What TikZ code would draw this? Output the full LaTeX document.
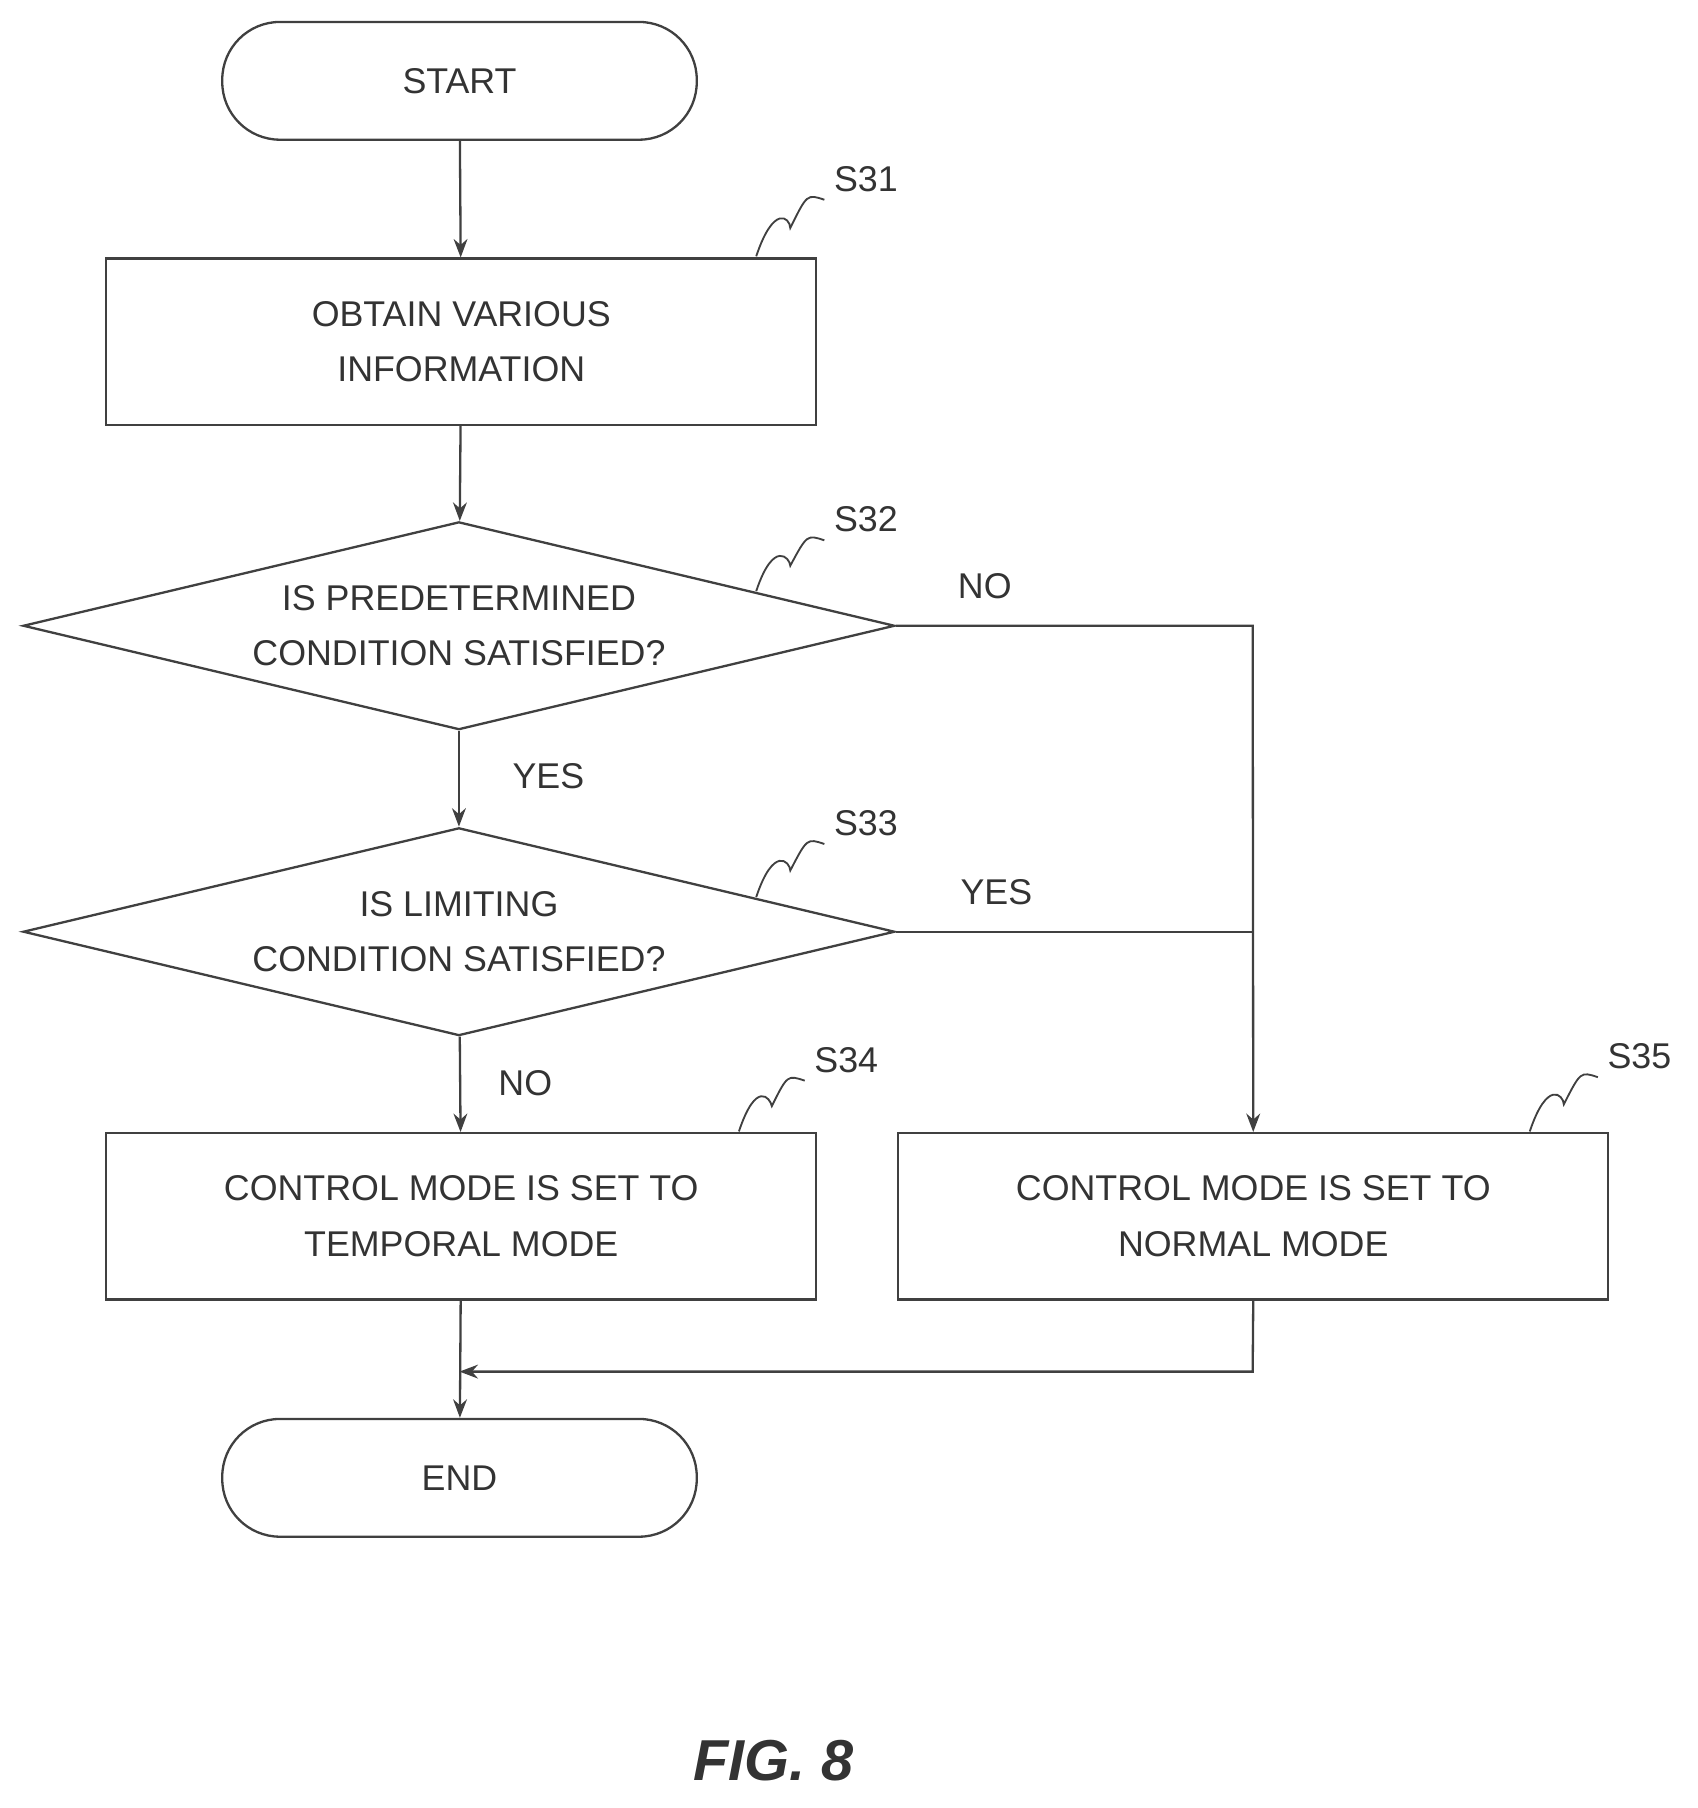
\documentclass[tikz,border=0pt]{standalone}
\usepackage{fontspec}
\setmainfont{Liberation Sans}
\usetikzlibrary{shapes.geometric,arrows.meta,calc}
\begin{document}
\begin{tikzpicture}[x=1pt,y=-1pt,
  every node/.style={font=\fontsize{31}{48}\selectfont, align=center, text=black!80},
  ln/.style={line width=2pt, draw=black!75},
  arr/.style={ln,-{Stealth[length=16pt,width=12pt]}},
  box/.style={ln, rectangle, minimum width=615pt, minimum height=144pt, inner sep=0},
  term/.style={ln, rectangle, rounded corners=50pt, minimum width=411pt, minimum height=102pt, inner sep=0},
  dia/.style={ln, diamond, shape aspect=4.19, minimum width=755pt, minimum height=180pt, inner sep=0},
  lead/.style={line width=1.6pt, draw=black!75}]
\useasboundingbox (0,0) rectangle (1470,1566);
\node[term] (start) at (398,70) {START};
\node[box] (s31) at (399.5,296) {OBTAIN VARIOUS\\INFORMATION};
\node[dia] (s32) at (397.5,542) {IS PREDETERMINED\\CONDITION SATISFIED?};
\node[dia] (s33) at (397.5,807) {IS LIMITING\\CONDITION SATISFIED?};
\node[box] (s34) at (399.5,1053.5) {CONTROL MODE IS SET TO\\TEMPORAL MODE};
\node[box] (s35) at (1085.5,1053.5) {CONTROL MODE IS SET TO\\NORMAL MODE};
\node[term] (end) at (398,1280) {END};
\coordinate (r1) at (1085,542);
\coordinate (r2) at (1085,807);
\coordinate (m1) at (1085,1188);
\coordinate (m2) at (398,1188);
\draw[arr] (start) -- (s31);
\draw[arr] (s31) -- (s32);
\draw[arr] (s32) -- (s33);
\draw[arr] (s33) -- (s34);
\draw[arr] (s34) -- (end);
\draw[arr] (s32.east) -- (r1) -- (s35.north);
\draw[ln] (s33.east) -- (r2);
\draw[arr] (s35.south) -- (m1) -- (m2);
\node (no1) at (853,508) {NO};
\node (yes1) at (475,672) {YES};
\node (yes2) at (863,773) {YES};
\node (no2) at (455,938) {NO};
\foreach \n/\lx/\ly/\ax/\ay in {S31/750/155/655/222, S32/750/450/655/512, S33/750/713/655/777, S34/733/918/640/980, S35/1420/915/1325/980}{
  \node (l\n) at (\lx,\ly) {\n};
  \coordinate (a\n) at (\ax,\ay);
  \coordinate (b\n) at (\lx-36,\ly+18);
  \draw[lead] (a\n) .. controls ($(a\n)+(15,-45)$) and ($(b\n)+(-30,15)$) .. ($(a\n)!0.5!(b\n)$) .. controls ($(b\n)+(-15,-5)$) .. (b\n);
}
\node[font=\fontsize{50}{60}\selectfont\bfseries\itshape] (fig) at (670,1525) {FIG. 8};
\end{tikzpicture}
\end{document}
